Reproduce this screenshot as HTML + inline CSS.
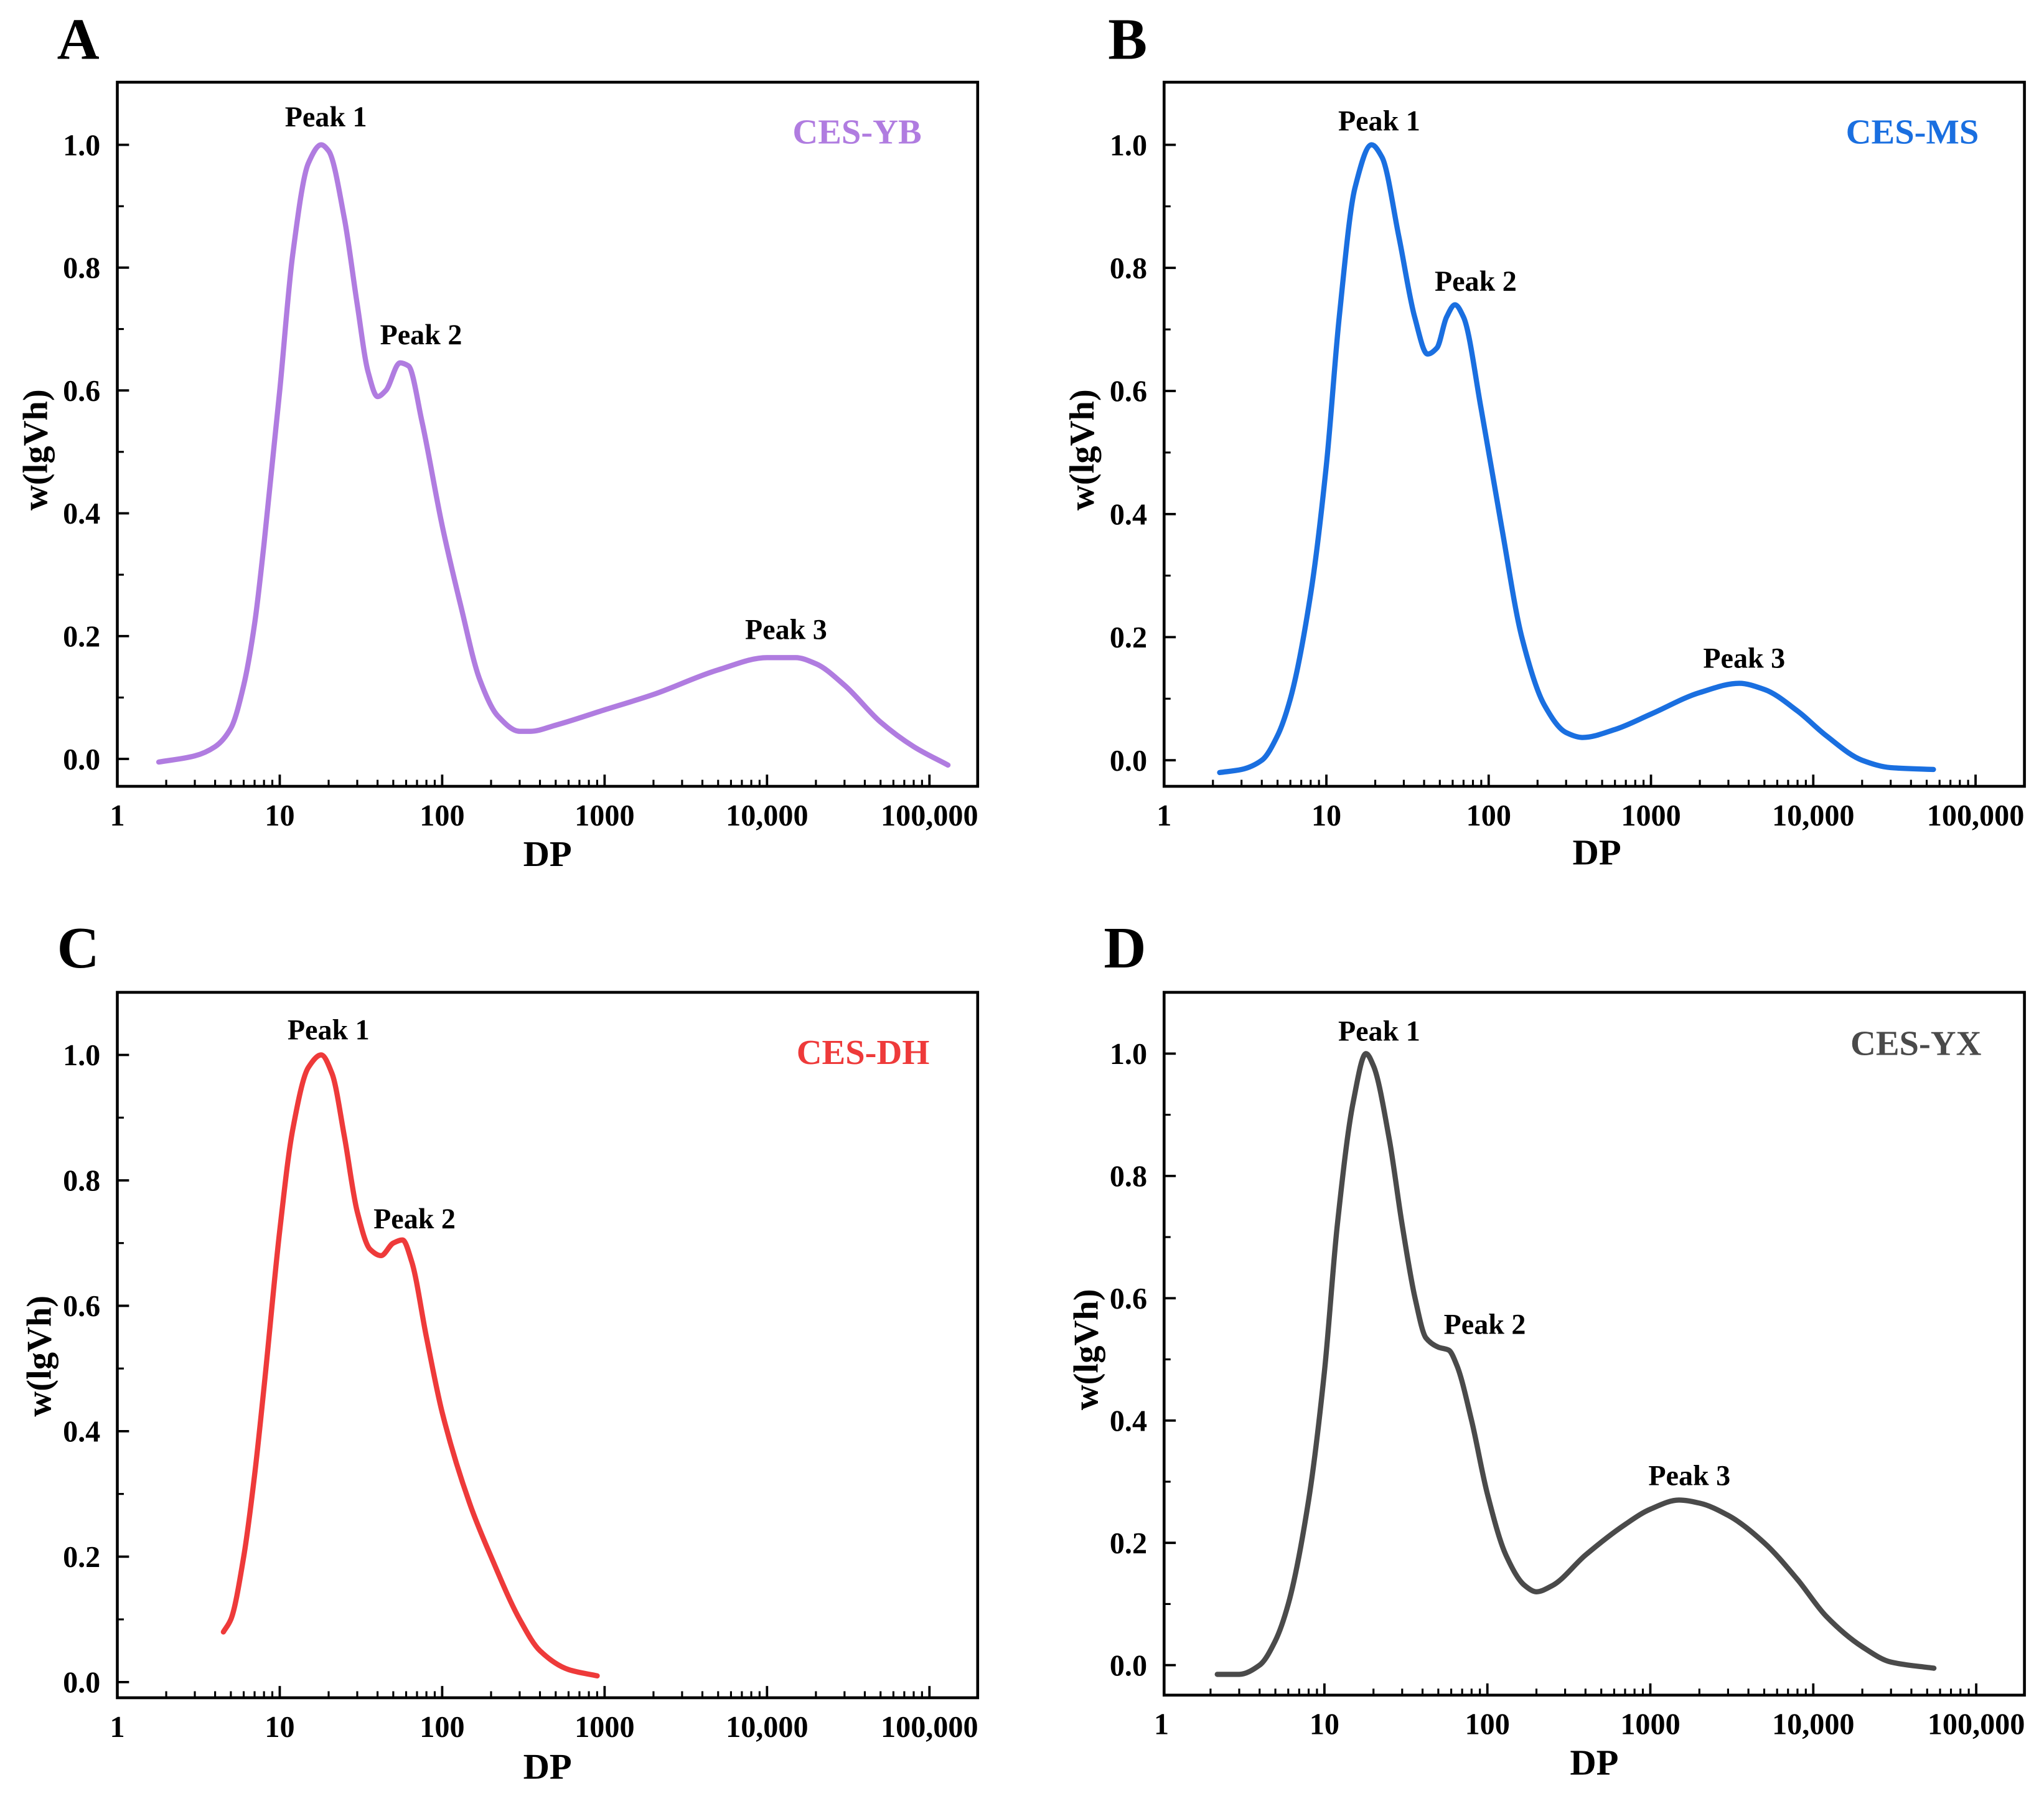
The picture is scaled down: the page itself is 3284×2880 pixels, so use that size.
<!DOCTYPE html>
<html><head><meta charset="utf-8"><style>
html,body{margin:0;padding:0;background:#fff;}
svg{display:block;}
text{font-family:"Liberation Serif",serif;font-weight:bold;}
</style></head><body>
<svg id="fig" width="3284" height="2880" viewBox="0 0 1568 1375" xmlns="http://www.w3.org/2000/svg"></svg>
<script>
// ---- data (DP values and w(lgVh) values) ----
const dpA=[1.8,3,4,5,6,7,8,10,12,15,18,20,25,30,35,40,45,55,62,75,100,130,170,220,300,350,500,1000,2000,5000,10000,15000,20000,30000,50000,80000,130000];
const wA=[-0.005,0.005,0.02,0.05,0.12,0.22,0.35,0.6,0.82,0.97,1.0,0.99,0.88,0.74,0.63,0.59,0.6,0.645,0.64,0.55,0.38,0.25,0.13,0.07,0.045,0.045,0.055,0.08,0.105,0.145,0.165,0.165,0.155,0.12,0.06,0.02,-0.01];
const dpB=[2.2,3,4,5,6,8,10,12,15,19,22,28,35,42,48,55,62,70,90,120,160,220,300,380,600,1000,2000,3500,5000,8000,12000,20000,30000,55000];
const wB=[-0.02,-0.015,0.0,0.04,0.1,0.27,0.48,0.72,0.93,1.0,0.98,0.85,0.72,0.66,0.67,0.72,0.74,0.72,0.57,0.38,0.2,0.09,0.045,0.037,0.05,0.075,0.11,0.125,0.115,0.08,0.04,0.0,-0.012,-0.015];
const dpC=[4.5,5,6,7,8,10,12,15,18,21,25,30,36,42,50,57,65,80,100,150,200,300,400,600,900];
const wC=[0.08,0.1,0.2,0.33,0.47,0.72,0.88,0.98,1.0,0.97,0.87,0.75,0.69,0.68,0.7,0.705,0.67,0.55,0.43,0.28,0.2,0.1,0.05,0.02,0.01];
const dpD=[2.2,3,4,5,6,8,10,12,15,18,20,25,30,36,42,50,58,65,80,100,130,170,200,250,400,700,1000,1500,2000,3000,5000,8000,12000,20000,30000,55000];
const wD=[-0.015,-0.015,0.0,0.04,0.1,0.27,0.48,0.72,0.92,1.0,0.98,0.86,0.72,0.6,0.535,0.52,0.515,0.49,0.4,0.28,0.18,0.13,0.12,0.13,0.18,0.23,0.255,0.27,0.265,0.245,0.2,0.14,0.08,0.03,0.005,-0.005];
const xTickLabels=["1","10","100","1000","10,000","100,000"];
const yTickLabels=["0.0","0.2","0.4","0.6","0.8","1.0"];

const NS="http://www.w3.org/2000/svg";
const svg=document.getElementById('fig');
function mk(tag,attrs,parent){const e=document.createElementNS(NS,tag);for(const k in attrs)e.setAttribute(k,attrs[k]);(parent||svg).appendChild(e);return e;}
function txt(s,x,y,size,anchor,fill,parent){const t=mk('text',{x:x,y:y,'font-size':size,'text-anchor':anchor||'middle',fill:fill||'#000'},parent);t.textContent=s;return t;}

// monotone cubic interpolation (Fritsch-Carlson)
function monotonePath(xs,ys){
  const n=xs.length,dx=[],s=[],m=new Array(n);
  for(let i=0;i<n-1;i++){dx.push(xs[i+1]-xs[i]);s.push((ys[i+1]-ys[i])/dx[i]);}
  m[0]=s[0];m[n-1]=s[n-2];
  for(let i=1;i<n-1;i++){
    if(s[i-1]*s[i]<=0)m[i]=0;
    else{const w1=2*dx[i]+dx[i-1],w2=dx[i]+2*dx[i-1];m[i]=(w1+w2)/(w1/s[i-1]+w2/s[i]);}
  }
  let d='M'+xs[0].toFixed(2)+','+ys[0].toFixed(2);
  for(let i=0;i<n-1;i++){
    const h=dx[i];
    d+=' C'+(xs[i]+h/3).toFixed(2)+','+(ys[i]+m[i]*h/3).toFixed(2)+' '+(xs[i+1]-h/3).toFixed(2)+','+(ys[i+1]-m[i+1]*h/3).toFixed(2)+' '+xs[i+1].toFixed(2)+','+ys[i+1].toFixed(2);
  }
  return d;
}

const panels=[
 {id:'a',letter:'A',name:'CES-YB',color:'#b07ce0',dp:dpA,w:wA,L:90,R:750,T:63,B:603,x1:90,dec:124.6,y0:582,y1:111,
  peaks:[["Peak 1",250,97],["Peak 2",323,264],["Peak 3",603,490]],lab:[707,110],letterPos:[60,45],dpPos:[420,664],yt:[27,345]},
 {id:'b',letter:'B',name:'CES-MS',color:'#1a6fe0',dp:dpB,w:wB,L:893,R:1553,T:63,B:603,x1:893,dec:124.5,y0:583,y1:111,
  peaks:[["Peak 1",1058,100],["Peak 2",1132,223],["Peak 3",1338,512]],lab:[1518,110],letterPos:[865,45],dpPos:[1225,663],yt:[830,345]},
 {id:'c',letter:'C',name:'CES-DH',color:'#ee3a3a',dp:dpC,w:wC,L:90,R:750,T:761,B:1302,x1:90,dec:124.6,y0:1290,y1:809,
  peaks:[["Peak 1",252,797],["Peak 2",318,942]],lab:[713,816],letterPos:[60,742],dpPos:[420,1364],yt:[30,1040]},
 {id:'d',letter:'D',name:'CES-YX',color:'#4a4a4a',dp:dpD,w:wD,L:893,R:1553,T:761,B:1300,x1:891,dec:125,y0:1277,y1:808,
  peaks:[["Peak 1",1058,798],["Peak 2",1139,1023],["Peak 3",1296,1139]],lab:[1520,809],letterPos:[863,742],dpPos:[1223,1361],yt:[833,1035]}
];

panels.forEach(p=>{
  const g=mk('g',{});
  
  
  const X=v=>p.x1+Math.log10(v)*p.dec;
  const Y=v=>p.y0+(p.y1-p.y0)*v;
  const d=monotonePath(p.dp.map(X),p.w.map(Y));
  const line=mk('path',{d:d,fill:'none',stroke:p.color,'stroke-width':4,'stroke-linejoin':'round','stroke-linecap':'round'},g);
  
  
  const fr=mk('rect',{x:p.L,y:p.T,width:p.R-p.L,height:p.B-p.T,fill:'none',stroke:'#000','stroke-width':2.2},g);
  
  
  for(let k=0;k<6;k++){
    const v=Math.pow(10,k);
    const x=X(v);
    if(x>=p.L && x<=p.R+1){mk('line',{x1:x,x2:x,y1:p.B,y2:p.B-9,stroke:'#000','stroke-width':1.8},g);}
    const t=txt(xTickLabels[k],x,p.B+30,23,'middle','#000',g);
    
    
    for(let m=2;m<10;m++){
      const xm=X(m*v);
      if(xm<p.R-1) mk('line',{x1:xm,x2:xm,y1:p.B,y2:p.B-5,stroke:'#000','stroke-width':1.5},g);
    }
  }
  for(let k=0;k<6;k++){
    const v=k*0.2,y=Y(v);
    mk('line',{x1:p.L,x2:p.L+9,y1:y,y2:y,stroke:'#000','stroke-width':1.8},g);
    const t=txt(yTickLabels[k],p.L-13,y+8,23,'end','#000',g);
    
    
    const ym=Y(v+0.1);
    if(ym>p.T+2) mk('line',{x1:p.L,x2:p.L+5,y1:ym,y2:ym,stroke:'#000','stroke-width':1.5},g);
  }
  const xt=txt('DP',p.dpPos[0],p.dpPos[1],28,'middle','#000',g);
  
  
  const yt=txt('w(lgVh)',0,0,27,'middle','#000',g);
  yt.setAttribute('transform','translate('+(p.yt[0]+9)+','+p.yt[1]+') rotate(-90)');
  
  
  const lt=txt(p.letter,p.letterPos[0],p.letterPos[1],45,'middle','#000',g);
  
  
  const sl=txt(p.name,p.lab[0],p.lab[1],27,'end',p.color,g);
  
  
  p.peaks.forEach(pk=>{
    const t=txt(pk[0],pk[1],pk[2],22,'middle','#000',g);
    
    
  });
});
</script>
</body></html>
